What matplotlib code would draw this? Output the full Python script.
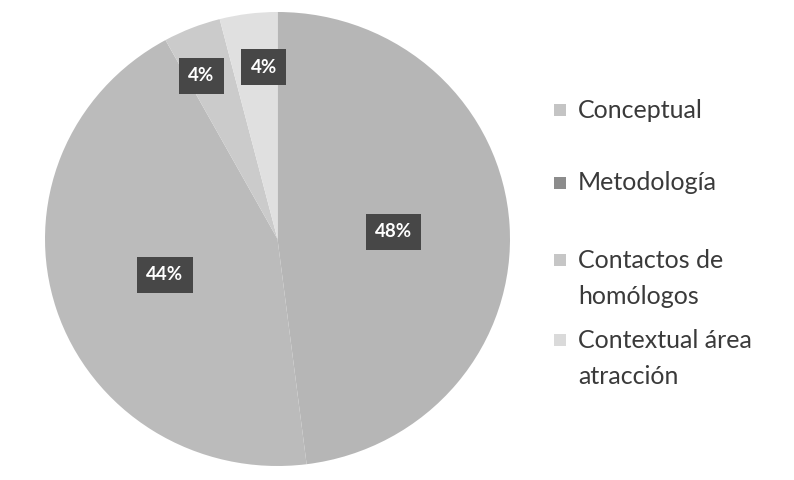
import numpy as np
import matplotlib
matplotlib.use("Agg")
import matplotlib.pyplot as plt
from matplotlib.patches import Rectangle

# data
labels = ["Conceptual", "Metodología", "Contactos de\nhomólogos", "Contextual área\natracción"]
values = [48, 44, 4, 4]
pct_text = ["48%", "44%", "4%", "4%"]

colors = ["#b6b6b6", "#bbbbbb", "#cbcbcb", "#e0e0e0"]
label_dist = [0.50, 0.51, 0.79, 0.76]
label_turn = [0, 0, 3.0, -2.7]   # small angular nudges, degrees

plt.rcParams["font.family"] = ["Lato", "DejaVu Sans"]

W, H = 794, 480
fig = plt.figure(figsize=(W / 100, H / 100), dpi=100)

# the scanned pie is slightly squashed vertically
cx, cy, rx, ry = 277.5, 239, 232.5, 227
ax = fig.add_axes([(cx - rx) / W, (H - cy - ry) / H, 2 * rx / W, 2 * ry / H])
wedges, _ = ax.pie(values, colors=colors, startangle=90, counterclock=False,
                   radius=1, wedgeprops=dict(linewidth=0))
ax.set_xlim(-1, 1)
ax.set_ylim(-1, 1)
ax.set_aspect("auto")
ax.axis("off")

for w, txt, d, t in zip(wedges, pct_text, label_dist, label_turn):
    ang = np.deg2rad((w.theta1 + w.theta2) / 2 + t)
    ax.text(d * np.cos(ang), d * np.sin(ang), txt, ha="center", va="center",
            color="white", fontsize=13.5, fontweight="bold",
            bbox=dict(boxstyle="square,pad=0.5", facecolor="#474747", edgecolor="none"))

# legend drawn by hand so markers sit on the first line
marker_colors = ["#c4c4c4", "#8c8c8c", "#c6c6c6", "#dadada"]
hatches = ["....", "xxxx", None, None]
legend_y = [110, 183, 260, 340]
for lab, y, mc, hz in zip(labels, legend_y, marker_colors, hatches):
    fig.patches.append(Rectangle((554 / W, (H - y - 6) / H), 12 / W, 12 / H,
                                 transform=fig.transFigure, facecolor=mc,
                                 edgecolor="none", hatch=hz))
    fig.text(578 / W, (H - y) / H, lab.split("\n")[0], ha="left", va="center",
             fontsize=18, color="#3a3a3a")
    if "\n" in lab:
        fig.text(578 / W, (H - y - 37) / H, lab.split("\n")[1], ha="left",
                 va="center", fontsize=18, color="#3a3a3a")

fig.savefig("out.png", dpi=100)
